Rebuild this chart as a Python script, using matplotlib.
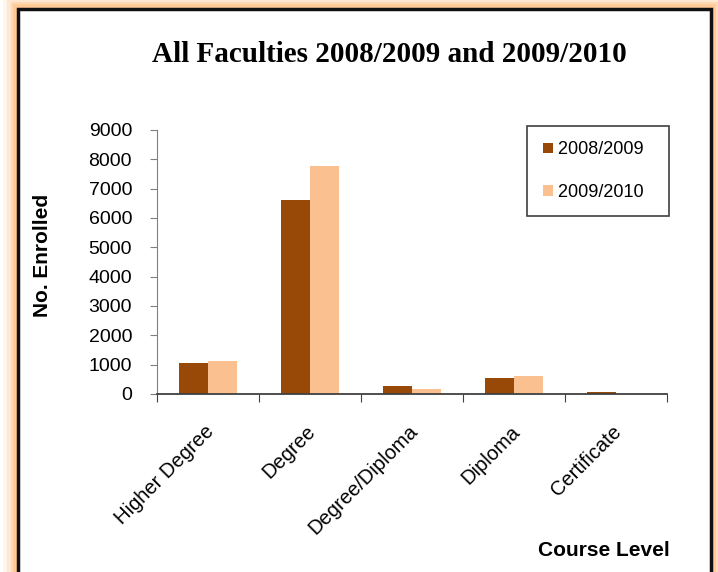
import numpy as np
import matplotlib
matplotlib.use('Agg')
import matplotlib.pyplot as plt
import matplotlib.transforms as mtransforms
from matplotlib.patches import Rectangle

# data
levels = ['Higher Degree', 'Degree', 'Degree/Diploma', 'Diploma', 'Certificate']
y0809 = [1060, 6600, 280, 545, 60]
y0910 = [1140, 7780, 180, 630, 10]
series = ['2008/2009', '2009/2010']
colors = ['#984807', '#FAC090']
yticks = [0, 1000, 2000, 3000, 4000, 5000, 6000, 7000, 8000, 9000]

plt.rcParams['font.family'] = ['Liberation Sans', 'DejaVu Sans']

fig = plt.figure(figsize=(7.18, 5.72), dpi=100)
fig.patch.set_facecolor('white')

# orange glow + black frame round the chart
W, H = 718.0, 572.0
x0, x1, ytop = 18 / W, 711 / W, 1 - 9 / H
for lw, a in [(22, 0.12), (16, 0.18), (11, 0.25), (7, 0.35)]:
    fig.patches.append(Rectangle((x0, -0.1), x1 - x0, ytop + 0.1,
                                 transform=fig.transFigure, fill=False,
                                 edgecolor='#FFB060', lw=lw, alpha=a, zorder=-3))
fig.patches.append(Rectangle((x0, -0.1), x1 - x0, ytop + 0.1,
                             transform=fig.transFigure, facecolor='white',
                             edgecolor='#111111', lw=2.5, zorder=-2))

ax = fig.add_axes([157 / W, 1 - 394 / H, (667 - 157) / W, (394 - 130) / H])
ax.set_facecolor('none')

x = np.arange(len(levels))
w = 0.285
ax.bar(x - w / 2, y0809, w, color=colors[0], label=series[0])
ax.bar(x + w / 2, y0910, w, color=colors[1], label=series[1])

ax.set_xlim(-0.5, len(levels) - 0.5)
ax.set_ylim(0, 9000)
ax.set_yticks(yticks)
ax.tick_params(axis='y', labelsize=14, length=5, color='#808080', pad=13)

ax.set_xticks(np.arange(len(levels) + 1) - 0.5)
ax.set_xticklabels([])
ax.tick_params(axis='x', length=6, color='#404040')
ax.set_xticks(x, minor=True)
ax.set_xticklabels(levels, minor=True, rotation=45, ha='right',
                   rotation_mode='anchor', fontsize=14.5)
ax.tick_params(axis='x', which='minor', length=0, pad=20)
shift = mtransforms.ScaledTranslation(-4 / 100, 0, fig.dpi_scale_trans)
for lab in ax.get_xticklabels(minor=True):
    lab.set_transform(lab.get_transform() + shift)

for s in ['top', 'right']:
    ax.spines[s].set_visible(False)
ax.spines['left'].set_color('#808080')
ax.spines['bottom'].set_color('#404040')
ax.spines['bottom'].set_linewidth(1.3)

fig.text(389 / W, 1 - 55 / H, 'All Faculties 2008/2009 and 2009/2010',
         family='Liberation Serif', fontweight='bold', fontsize=21,
         ha='center', va='center')
fig.text(42 / W, 1 - 255 / H, 'No. Enrolled', rotation=90, fontweight='bold',
         fontsize=15, ha='center', va='center')
fig.text(604 / W, 1 - 550 / H, 'Course Level', fontweight='bold',
         fontsize=15, ha='center', va='center')

leg = ax.legend(loc='upper right', bbox_to_anchor=(1.004, 1.015),
                borderaxespad=0, fontsize=13,
                handlelength=0.55, handleheight=0.55, handletextpad=0.3,
                labelspacing=1.4, borderpad=0.85, fancybox=False,
                edgecolor='#404040', framealpha=1)
leg.get_frame().set_linewidth(1.2)
# widen the box a little, as in the reference
leg._legend_box.align = 'left'
for t in leg.get_texts():
    t.set_text(t.get_text() + '  ')

fig.savefig('out.png', dpi=100)
